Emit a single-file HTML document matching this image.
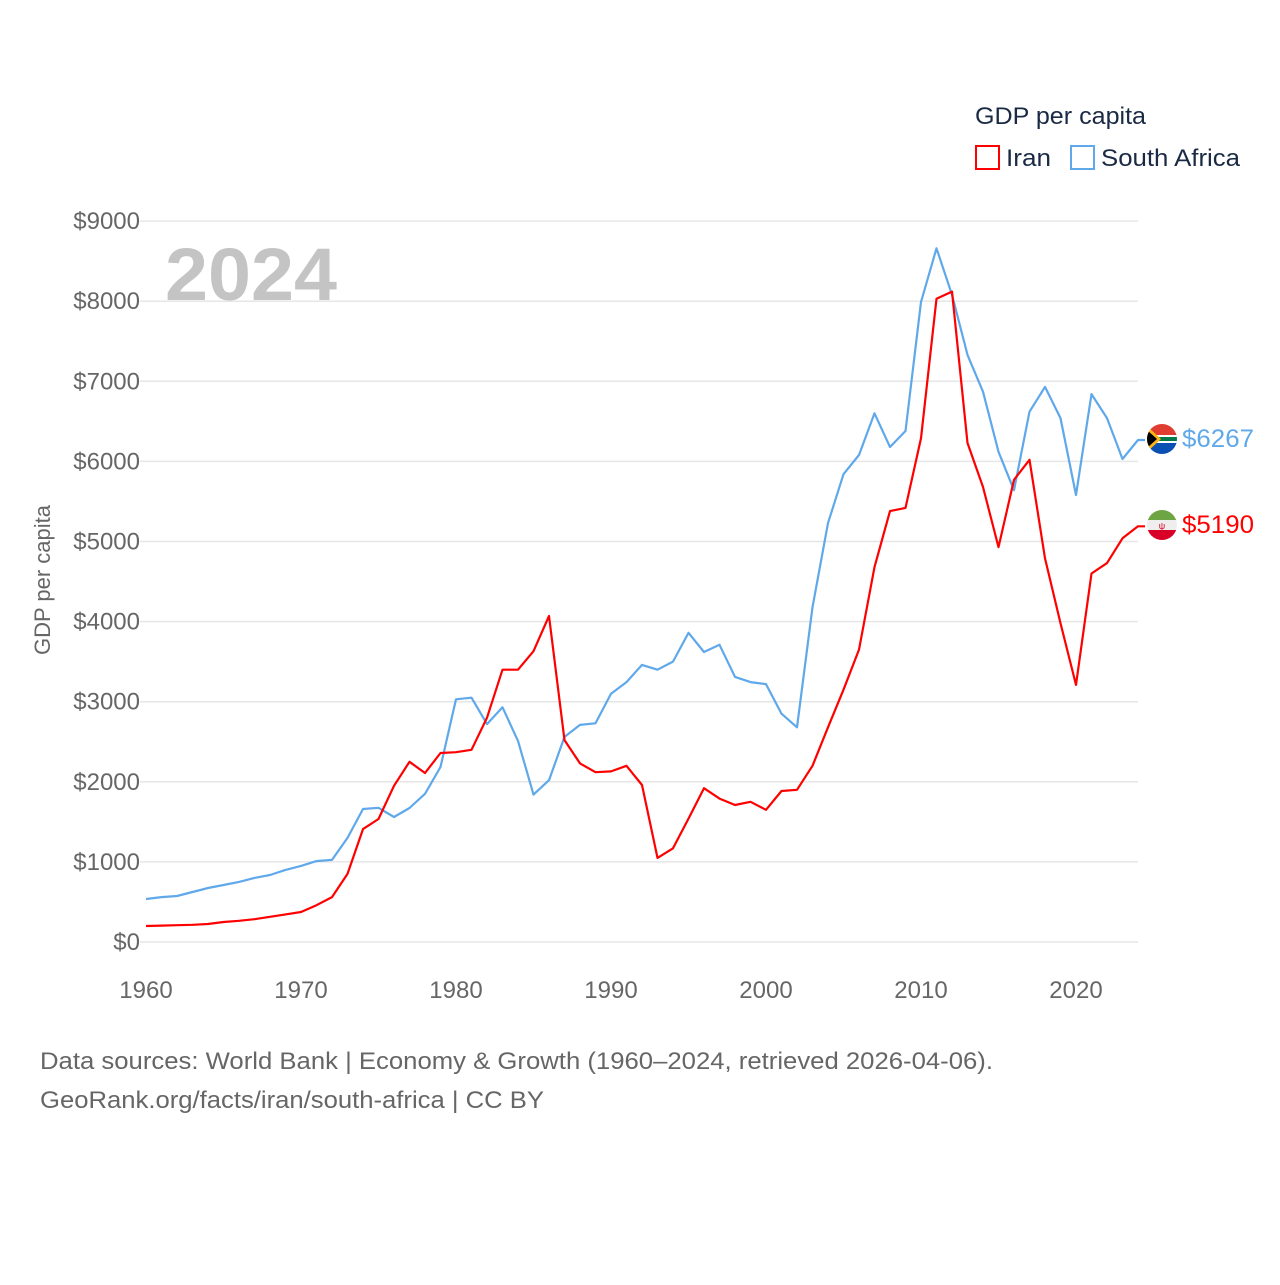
<!DOCTYPE html>
<html><head><meta charset="utf-8"><style>
body{margin:0;background:#fff;font-family:"Liberation Sans",sans-serif;}
svg text{font-family:"Liberation Sans",sans-serif;}
</style></head><body>
<svg id="chart" width="1280" height="1280" viewBox="0 0 1280 1280" xmlns="http://www.w3.org/2000/svg">
<g id="grid"></g>
<g id="yticks"></g>
<g id="xticks"></g>
<text x="165" y="300" font-size="74" font-weight="bold" fill="#c4c4c4" textLength="172" lengthAdjust="spacingAndGlyphs">2024</text>
<text transform="translate(50,580) rotate(-90)" text-anchor="middle" font-size="22" fill="#666">GDP per capita</text>
<g id="series"></g>
<g>
<text x="975" y="124" font-size="24" fill="#1a2a44" textLength="171" lengthAdjust="spacingAndGlyphs">GDP per capita</text>
<g><rect x="976" y="146" width="23" height="23" fill="none" stroke="#ff0000" stroke-width="2"/><text x="1006" y="166" font-size="24" fill="#1a2a44" textLength="45" lengthAdjust="spacingAndGlyphs">Iran</text></g>
<g><rect x="1071" y="146" width="23" height="23" fill="none" stroke="#5fa8ea" stroke-width="2"/><text x="1101" y="166" font-size="24" fill="#1a2a44" textLength="139" lengthAdjust="spacingAndGlyphs">South Africa</text></g>
</g>
<g>
<clipPath id="c1"><circle cx="1162" cy="439" r="15"/></clipPath>
<g clip-path="url(#c1)"><rect x="1147" y="424" width="30" height="15" fill="#e03c31"/><rect x="1147" y="439" width="30" height="15" fill="#0a4fb3"/><rect x="1147" y="435" width="30" height="8" fill="#fff"/><rect x="1147" y="437" width="30" height="4" fill="#007a4d"/><polygon points="1147,426 1161,439 1147,452" fill="#ffb612"/><polygon points="1147,430 1157,439 1147,448" fill="#000"/></g>
</g>
<g>
<clipPath id="c2"><circle cx="1162" cy="525" r="15"/></clipPath>
<g clip-path="url(#c2)"><rect x="1147" y="510" width="30" height="10" fill="#6da544"/><rect x="1147" y="520" width="30" height="10" fill="#eee"/><rect x="1147" y="530" width="30" height="10" fill="#d80027"/><text x="1162" y="529" font-size="9" text-anchor="middle" fill="#d80027">ψ</text></g>
</g>
<text x="1182" y="447" font-size="25" fill="#5fa8ea" textLength="72" lengthAdjust="spacingAndGlyphs">$6267</text>
<text x="1182" y="533" font-size="25" fill="#ff0000" textLength="72" lengthAdjust="spacingAndGlyphs">$5190</text>
<text x="40" y="1069" font-size="24" fill="#666" textLength="953" lengthAdjust="spacingAndGlyphs">Data sources: World Bank | Economy &amp; Growth (1960–2024, retrieved 2026-04-06).</text>
<text x="40" y="1108" font-size="24" fill="#666" textLength="504" lengthAdjust="spacingAndGlyphs">GeoRank.org/facts/iran/south-africa | CC BY</text>
</svg>
<script>
const years=[];for(let y=1960;y<=2024;y++)years.push(y);
const southAfrica=[537,560,574,624,674,712,750,800,836,900,950,1010,1025,1300,1660,1675,1560,1673,1850,2185,3030,3050,2720,2930,2510,1840,2020,2560,2710,2730,3100,3245,3460,3400,3500,3860,3620,3710,3310,3245,3220,2850,2680,4180,5230,5840,6080,6600,6180,6380,7990,8660,8080,7330,6870,6120,5640,6620,6930,6540,5580,6840,6540,6030,6267];
const iran=[200,205,210,215,225,250,265,285,315,345,375,460,560,850,1410,1535,1950,2250,2110,2360,2370,2400,2800,3400,3400,3630,4070,2520,2230,2120,2130,2200,1960,1050,1170,1540,1920,1790,1710,1750,1650,1885,1900,2200,2680,3150,3650,4680,5380,5420,6290,8030,8120,6230,5680,4930,5770,6020,4790,3980,3210,4600,4730,5040,5190];
const yTicks=[0,1000,2000,3000,4000,5000,6000,7000,8000,9000];
const xTicks=[1960,1970,1980,1990,2000,2010,2020];
const NS="http://www.w3.org/2000/svg";
const X=y=>146+(y-1960)*15.5;
const Y=v=>942-v*0.0801;
const grid=document.getElementById('grid'),yt=document.getElementById('yticks'),xt=document.getElementById('xticks'),ser=document.getElementById('series');
yTicks.forEach(v=>{
 const l=document.createElementNS(NS,'line');
 l.setAttribute('x1',140);l.setAttribute('x2',1138);l.setAttribute('y1',Y(v));l.setAttribute('y2',Y(v));
 l.setAttribute('stroke','#e6e6e6');l.setAttribute('stroke-width','1.5');
 
 
 grid.appendChild(l);
 const t=document.createElementNS(NS,'text');
 t.setAttribute('x',140);t.setAttribute('y',Y(v)+8);t.setAttribute('text-anchor','end');
 t.setAttribute('font-size','24');t.setAttribute('fill','#666');t.textContent='$'+v;
 
 
 yt.appendChild(t);
});
xTicks.forEach(v=>{
 const t=document.createElementNS(NS,'text');
 t.setAttribute('x',X(v));t.setAttribute('y',998);t.setAttribute('text-anchor','middle');
 t.setAttribute('font-size','24');t.setAttribute('fill','#666');t.textContent=v;
 
 
 xt.appendChild(t);
});
function line(vals,color,name){
 const p=document.createElementNS(NS,'path');
 let d=vals.map((v,i)=>(i?'L':'M')+X(years[i]).toFixed(1)+','+Y(v).toFixed(1)).join(' ');
 d+=' L'+(X(years[years.length-1])+7)+','+Y(vals[vals.length-1]).toFixed(1);
 p.setAttribute('d',d);p.setAttribute('fill','none');p.setAttribute('stroke',color);
 p.setAttribute('stroke-width','2.2');p.setAttribute('stroke-linejoin','round');
 
 
 ser.appendChild(p);
}
line(southAfrica,'#5fa8ea','line-south-africa');
line(iran,'#ff0000','line-iran');
</script>
</body></html>
